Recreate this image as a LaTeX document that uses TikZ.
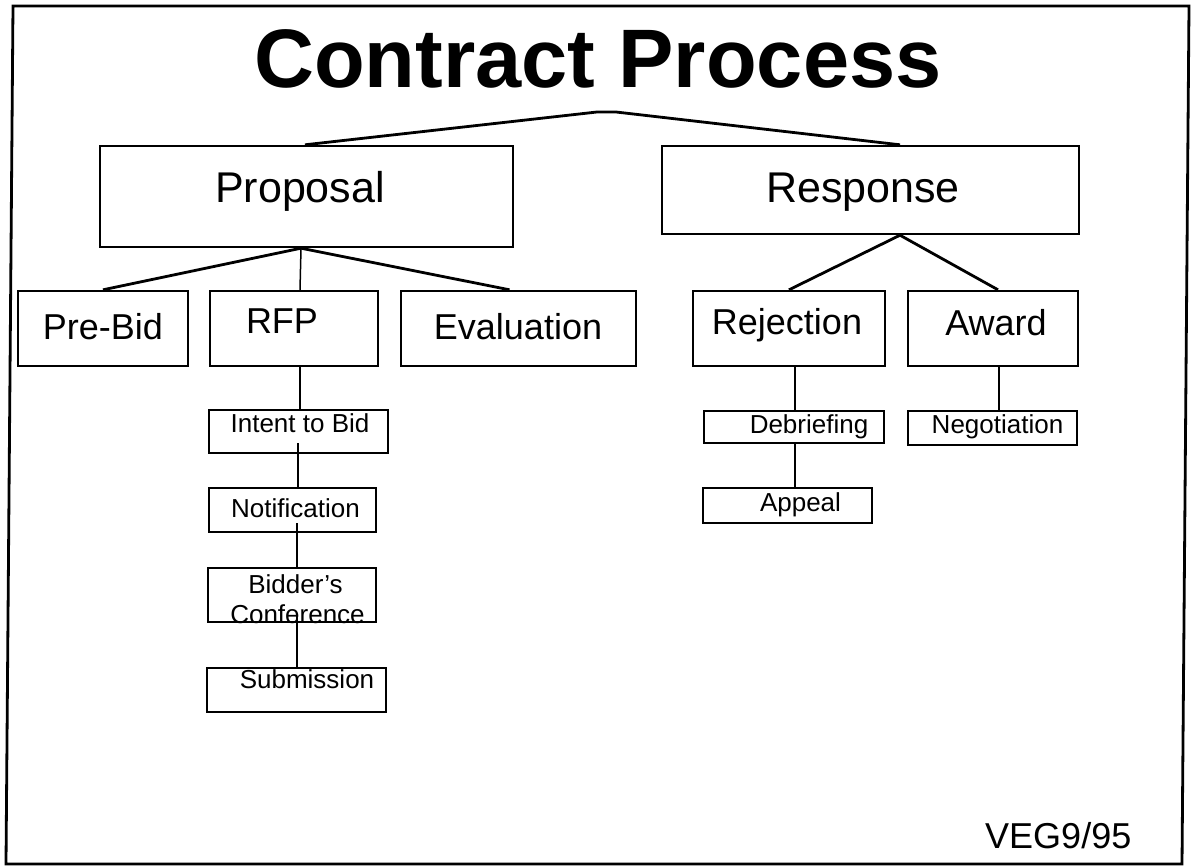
\documentclass[tikz,border=0pt]{standalone}
\usepackage{fontspec}
\setmainfont{Liberation Sans}
\begin{document}
\begin{tikzpicture}[x=1pt,y=-1pt,
  bigbox/.style={draw=black,line width=2.4pt,rectangle,inner sep=0pt},
  smallbox/.style={draw=black,line width=2pt,rectangle,inner sep=0pt},
  txt/.style={inner sep=0pt,anchor=base},
  thickline/.style={line width=2.8pt},
  thinline/.style={line width=1.5pt}]
\useasboundingbox (0,0) rectangle (1196,867);
% frame
\draw[line width=2.8pt] (13,6) -- (1189,6) -- (1182,864) -- (6,864) -- cycle;
% title
\node[txt,font=\fontsize{83}{90}\selectfont\bfseries] (title) at (598,87) {Contract Process};
% level 1 boxes
\node[bigbox,minimum width=413pt,minimum height=101pt] (proposal) at (306.5,196.5) {};
\node[bigbox,minimum width=417pt,minimum height=88pt] (response) at (870.5,190) {};
\node[txt,font=\fontsize{43}{48}\selectfont] (proposalT) at (300,202) {Proposal};
\node[txt,font=\fontsize{43}{48}\selectfont] (responseT) at (863,202) {Response};
% level 2 boxes
\node[bigbox,minimum width=170pt,minimum height=75pt] (prebid) at (103,328.5) {};
\node[bigbox,minimum width=168pt,minimum height=75pt] (rfp) at (294,328.5) {};
\node[bigbox,minimum width=235pt,minimum height=75pt] (eval) at (518.5,328.5) {};
\node[bigbox,minimum width=192pt,minimum height=75pt] (rejection) at (789,328.5) {};
\node[bigbox,minimum width=170pt,minimum height=75pt] (award) at (993,328.5) {};
\node[txt,font=\fontsize{36}{40}\selectfont] (prebidT) at (103,339) {Pre-Bid};
\node[txt,font=\fontsize{36}{40}\selectfont] (rfpT) at (282,333) {RFP};
\node[txt,font=\fontsize{36}{40}\selectfont] (evalT) at (518,339) {Evaluation};
\node[txt,font=\fontsize{36}{40}\selectfont] (rejectionT) at (787,334) {Rejection};
\node[txt,font=\fontsize{36}{40}\selectfont] (awardT) at (996,335) {Award};
% level 3 boxes
\node[smallbox,minimum width=179pt,minimum height=43pt] (intent) at (298.5,431.5) {};
\node[smallbox,minimum width=167pt,minimum height=44pt] (notif) at (292.5,510) {};
\node[smallbox,minimum width=168pt,minimum height=54pt] (bidder) at (292,595) {};
\node[smallbox,minimum width=179pt,minimum height=44pt] (submission) at (296.5,690) {};
\node[smallbox,minimum width=180pt,minimum height=32pt] (debrief) at (794,427) {};
\node[smallbox,minimum width=169pt,minimum height=35pt] (appeal) at (787.5,505.5) {};
\node[smallbox,minimum width=169pt,minimum height=34pt] (negotiation) at (992.5,428) {};
\node[txt,font=\fontsize{26}{30}\selectfont] (intentT) at (300,432) {Intent to Bid};
\node[txt,font=\fontsize{26}{30}\selectfont] (notifT) at (295.5,517) {Notification};
\node[txt,font=\fontsize{26}{30}\selectfont] (bidderT1) at (295.5,593) {Bidder's};
\node[txt,font=\fontsize{26}{30}\selectfont] (bidderT2) at (297.5,623) {Conference};
\node[txt,font=\fontsize{26}{30}\selectfont] (submissionT) at (307,688) {Submission};
\node[txt,font=\fontsize{26}{30}\selectfont] (debriefT) at (809,433) {Debriefing};
\node[txt,font=\fontsize{26}{30}\selectfont] (appealT) at (800.5,511) {Appeal};
\node[txt,font=\fontsize{26}{30}\selectfont] (negotiationT) at (997.5,433) {Negotiation};
% footer
\node[txt,anchor=base west,font=\fontsize{36}{40}\selectfont] (veg) at (985,848) {VEG9/95};
% helper coordinates
\coordinate (apexL) at (597,112);
\coordinate (apexR) at (616,112);
\coordinate (spineA) at (300,0);
\coordinate (spineB) at (298,0);
\coordinate (spineC) at (297,0);
\coordinate (rcol) at (795,0);
\coordinate (acol) at (999,0);
% connectors
\draw[thickline] ([xshift=-1.5pt]proposal.north) -- (apexL) -- (apexR) -- ([xshift=29.5pt]response.north);
\draw[thickline] ([xshift=-5.5pt]proposal.south) -- (prebid.north);
\draw[thickline] ([xshift=-5.5pt]proposal.south) -- ([xshift=-9pt]eval.north);
\draw[thinline] ([xshift=-5.5pt]proposal.south) -- (spineA |- rfp.north);
\draw[thickline] ([xshift=29.5pt]response.south) -- (rejection.north);
\draw[thickline] ([xshift=29.5pt]response.south) -- ([xshift=5pt]award.north);
\draw[thinline] (spineA |- rfp.south) -- (spineA |- intent.north);
\draw[thinline] ([yshift=11pt]spineB |- intent.south) -- (spineB |- notif.north);
\draw[thinline] ([yshift=10pt]spineC |- notif.south) -- (spineC |- bidder.north);
\draw[thinline] ([yshift=7pt]spineC |- bidder.south) -- (spineC |- submission.north);
\draw[thinline] (rcol |- rejection.south) -- (rcol |- debrief.north);
\draw[thinline] (rcol |- debrief.south) -- (rcol |- appeal.north);
\draw[thinline] (acol |- award.south) -- (acol |- negotiation.north);
\end{tikzpicture}
\end{document}
